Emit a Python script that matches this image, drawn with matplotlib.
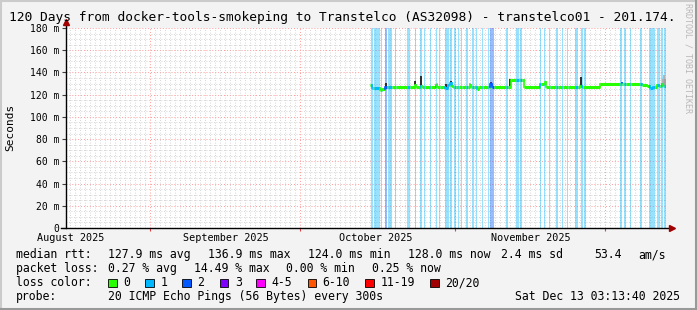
import numpy as np
import pandas as pd
import matplotlib
matplotlib.use("Agg")
import matplotlib.pyplot as plt
import matplotlib.dates as mdates
from matplotlib.patches import Rectangle
from matplotlib.lines import Line2D

# graph window: 120 days ending at the graph time stamp
t_end = pd.Timestamp("2025-12-13 03:13:40")
t_start = t_end - pd.Timedelta(days=120)
base = pd.Timestamp("2025-10-13")  # offsets below are days after this date

# median rtt (ms) as steps, value holds until the next breakpoint
rtt_day = [1.87, 2.25, 3.9, 4.4, 4.9, 5.5, 10.9, 11.2, 12.1, 12.35, 15.2, 15.4,
           17.0, 17.5, 18.0, 18.3, 18.6, 21.9, 22.2, 23.3, 23.7, 26.0, 26.4,
           30.13, 32.67, 36.0, 37.0, 37.2, 43.9, 44.3, 47.9, 52.2, 52.5, 56.3,
           57.4, 58.0, 58.6, 59.3, 59.8, 60.3, 60.6, 61.2]
rtt_ms = [128.7, 126.0, 124.3, 125.2, 126.5, 127.2, 129.0, 127.2, 128.2, 127.2, 128.5, 127.2,
          126.0, 128.5, 130.5, 128.0, 127.2, 129.0, 127.2, 125.0, 127.2, 129.5, 127.2,
          133.3, 126.6, 129.3, 131.5, 126.6, 128.0, 126.6, 129.3, 130.0, 129.3, 128.5,
          127.5, 125.8, 127.0, 129.0, 127.8, 129.5, 128.0, 128.0]

# periods with packet loss (days after base) and lost pings out of 20
loss_start = [2.2, 2.67, 4.13, 4.87, 5.47, 6.87, 9.33, 11.0, 12.0, 12.67, 14.0, 15.2,
              15.8, 17.0, 18.0, 18.8, 19.47, 20.13, 21.2, 22.4, 23.2, 24.33, 25.47,
              26.0, 29.13, 31.2, 31.87, 36.0, 36.67, 37.67, 39.2, 40.33, 41.33, 43.0,
              44.2, 44.87, 52.0, 52.67, 53.87, 56.0, 57.67, 59.33, 60.2, 60.8]
loss_end = [2.53, 3.87, 4.4, 5.33, 6.33, 7.07, 10.0, 11.2, 12.27, 12.87, 14.13, 15.33,
            16.0, 17.67, 18.4, 19.07, 19.67, 20.4, 21.47, 22.67, 23.33, 24.53, 25.73,
            26.67, 29.47, 31.73, 32.4, 36.2, 36.87, 37.87, 39.47, 40.53, 41.53, 43.47,
            44.47, 45.0, 52.33, 53.13, 54.13, 56.33, 58.87, 59.87, 60.47, 61.2]
loss_count = [1, 1, 1, 2, 1, 1, 1, 1, 1, 1, 1, 1,
              1, 1, 1, 1, 1, 1, 1, 1, 1, 1, 1,
              2, 1, 1, 1, 1, 1, 1, 1, 1, 1, 1,
              1, 1, 1, 1, 1, 1, 1, 1, 1, 1]

# smoke spikes above the median: day, top (ms), shade
spike_day = [5.2, 11.0, 12.2, 15.3, 17.2, 18.1, 22.0, 26.2, 30.0, 32.2, 37.0, 44.1,
             52.3, 60.5, 60.8, 61.0]
spike_top = [130.5, 132.5, 137.0, 130.5, 130.0, 132.3, 130.5, 131.5, 133.8, 134.0, 131.7, 135.6,
             131.0, 134.0, 137.5, 134.0]
spike_col = ["#202020", "#202020", "#202020", "#b0b0b0", "#202020", "#202020", "#b0b0b0",
             "#402080", "#202020", "#b0b0b0", "#202020", "#202020", "#0059ff", "#b0b0b0",
             "#b0b0b0", "#a0a0a0"]

loss_labels = ["0", "1", "2", "3", "4-5", "6-10", "11-19", "20/20"]
loss_colors = ["#26ff00", "#00b8ff", "#0059ff", "#7e00ff", "#ff00ff", "#ff5500", "#ff0000", "#a10000"]

W, H = 697, 310
FONT = "DejaVu Sans Mono"
plt.rcParams["font.family"] = FONT


def fx(px):
    return px / W


def fy(py):
    return 1 - py / H


def day(d):
    return base + pd.Timedelta(days=d)


fig = plt.figure(figsize=(W / 100, H / 100), dpi=100, facecolor="#f3f3f3")
ax = fig.add_axes([fx(66), fy(228), 600 / W, 200 / H])
ax.set_facecolor("white")
ax.set_xlim(t_start, t_end)
ax.set_ylim(0, 180)

# grid
ax.set_yticks(np.arange(0, 181, 20))
ax.set_yticks(np.arange(0, 181, 5), minor=True)
ax.set_yticklabels(["0"] + ["%d m" % v for v in range(20, 181, 20)])
ax.xaxis.set_major_locator(mdates.MonthLocator())
ax.xaxis.set_minor_locator(mdates.DayLocator())
ax.xaxis.set_major_formatter(plt.NullFormatter())
ax.grid(which="minor", color="#c8c8c8", linestyle=(0, (1, 2)), linewidth=0.6)
ax.grid(which="major", color="#ff9a9a", linestyle=(0, (1, 2)), linewidth=0.7)
ax.set_axisbelow(True)
ax.tick_params(axis="y", which="major", length=3, width=0.8, pad=1.5, labelsize=7, color="#404040")
ax.tick_params(axis="y", which="minor", length=0)
ax.tick_params(axis="x", which="major", length=2.5, width=0.8, color="#e04040", direction="out")
ax.tick_params(axis="x", which="minor", length=0)
for s in ax.spines.values():
    s.set_visible(False)

# loss bars (at least one pixel column wide, like rrdtool draws them)
min_w = 0.24
for a, b, n in zip(loss_start, loss_end, loss_count):
    if b - a < min_w:
        a, b = (a + b) / 2 - min_w / 2, (a + b) / 2 + min_w / 2
    ax.axvspan(day(a), day(b), color=loss_colors[n], alpha=0.4, lw=0, zorder=2)

# smoke spikes
rtt_days = np.array(rtt_day)
for d, top, c in zip(spike_day, spike_top, spike_col):
    i = max(np.searchsorted(rtt_days, d, side="right") - 1, 0)
    ax.vlines(day(d), rtt_ms[i], top, color=c, lw=1.3, zorder=3)

# median line coloured by loss
bounds = sorted(set(rtt_day) | {x for x in loss_start + loss_end if rtt_day[0] <= x <= rtt_day[-1]})
prev_val = None
for a, b in zip(bounds[:-1], bounds[1:]):
    i = np.searchsorted(rtt_days, a, side="right") - 1
    val = rtt_ms[i]
    mid = (a + b) / 2
    n = 0
    for s0, s1, c in zip(loss_start, loss_end, loss_count):
        if s0 <= mid < s1:
            n = c
    col = loss_colors[n]
    ax.plot([day(a), day(b)], [val, val], color=col, lw=2.2, solid_capstyle="butt", zorder=4)
    if prev_val is not None and prev_val != val:
        ax.plot([day(a), day(a)], [prev_val, val], color=col, lw=1.2, zorder=4)
    prev_val = val

# axes with arrows
ax.add_line(Line2D([0, 0], [0, 1.03], transform=ax.transAxes, color="black", lw=1, clip_on=False, zorder=6))
ax.add_line(Line2D([-0.008, 1.008], [0, 0], transform=ax.transAxes, color="black", lw=1, clip_on=False, zorder=6))
ax.plot([0], [1.03], marker="^", ms=5, color="#a00000", transform=ax.transAxes, clip_on=False, zorder=7)
ax.plot([1.01], [0], marker=">", ms=5, color="#a00000", transform=ax.transAxes, clip_on=False, zorder=7)

# month labels, centred mid-month
for m in ["2025-08-16 04:00", "2025-09-16 04:00", "2025-10-16 04:00", "2025-11-16 04:00"]:
    ax.text(pd.Timestamp(m), -0.05, pd.Timestamp(m).strftime("%B %Y"), transform=ax.get_xaxis_transform(),
            ha="center", va="center", fontsize=7.3, clip_on=False)

fig.text(fx(10.5), fy(127), "Seconds", rotation=90, ha="center", va="center", fontsize=8)
fig.text(fx(9), fy(17), "120 Days from docker-tools-smokeping to Transtelco (AS32098) - transtelco01 - 201.174.",
         ha="left", va="center", fontsize=9.3)
fig.text(fx(688), fy(3), "RRDTOOL / TOBI OETIKER", rotation=270, ha="center", va="top",
         fontsize=6, color="#b8b8b8")

# legend
fs = 8.3
rows = [
    (254.5, [(16, "median rtt:"), (107.6, "127.9 ms avg"), (207.6, "136.9 ms max"), (307.6, "124.0 ms min"),
             (407.6, "128.0 ms now"), (501, "2.4 ms sd"), (593.8, "53.4"), (638.7, "am/s")]),
    (268.5, [(16, "packet loss:"), (107.6, "0.27 % avg"), (194.2, "14.49 % max"), (285.8, "0.00 % min"),
             (372, "0.25 % now")]),
    (282.5, [(16, "loss color:")]),
    (296.5, [(16, "probe:"), (107.6, "20 ICMP Echo Pings (56 Bytes) every 300s")]),
]
for y, items in rows:
    for x, s in items:
        fig.text(fx(x), fy(y), s, ha="left", va="center", fontsize=fs)
fig.text(fx(680), fy(296.5), "Sat Dec 13 03:13:40 2025", ha="right", va="center", fontsize=fs)

sq_x = [108, 145.3, 182.2, 220, 256.4, 307.6, 365.3, 430.2]
for x, lab, c in zip(sq_x, loss_labels, loss_colors):
    fig.patches.append(Rectangle((fx(x), fy(286.5)), 8.5 / W, 8 / H, transform=fig.transFigure,
                                 facecolor=c, edgecolor="black", lw=0.6))
    fig.text(fx(x + 15), fy(282.5), lab, ha="left", va="center", fontsize=fs)

# image frame shading
fig.add_artist(Line2D([fx(0.5), fx(0.5)], [0, 1], color="#cbcbcb", lw=1.5))
fig.add_artist(Line2D([0, 1], [fy(0.5), fy(0.5)], color="#cbcbcb", lw=1.5))
fig.add_artist(Line2D([fx(696), fx(696)], [0, 1], color="#999999", lw=1.5))
fig.add_artist(Line2D([0, 1], [fy(309), fy(309)], color="#999999", lw=1.5))

fig.savefig("out.png", dpi=100, facecolor=fig.get_facecolor())
